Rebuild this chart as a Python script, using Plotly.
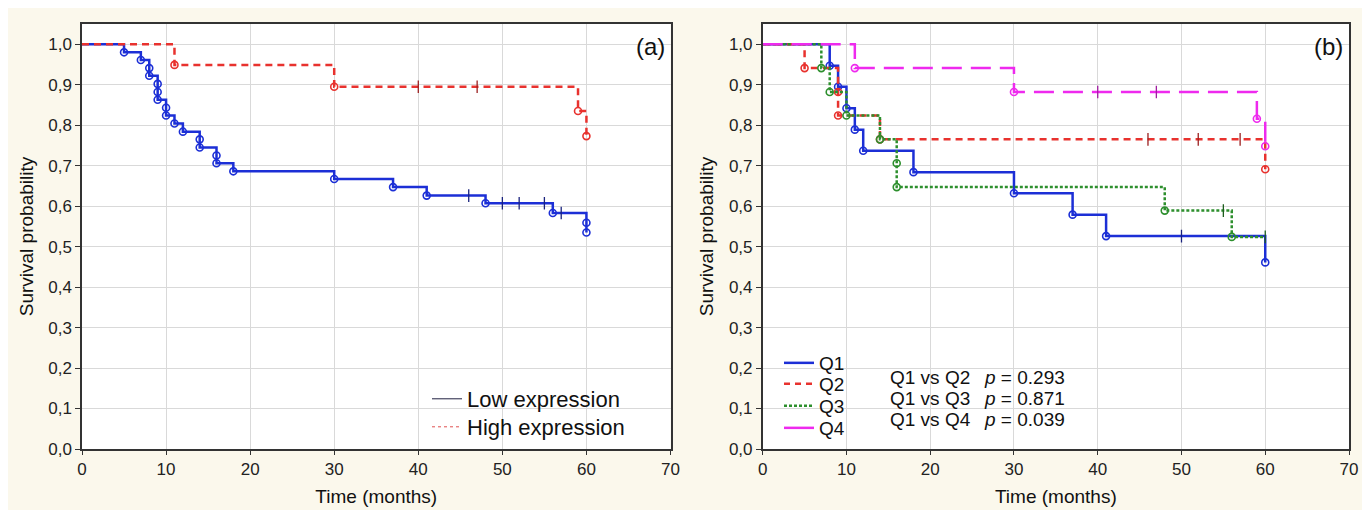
import plotly.graph_objects as go

# ---------------- data ----------------
# Panel (a)
low_event_t = [5, 7, 8, 8, 9, 9, 9, 10, 10, 11, 12, 14, 14, 16, 16, 18, 30, 37, 41, 48, 56, 60, 60]
low_event_s = [0.980, 0.961, 0.941, 0.922, 0.902, 0.882, 0.863, 0.843, 0.824, 0.804, 0.784,
               0.765, 0.745, 0.725, 0.706, 0.686, 0.667, 0.647, 0.626, 0.607, 0.583, 0.559, 0.535]
low_censor_t = [46, 50, 52, 55, 57]

high_event_t = [11, 30, 59, 60]
high_event_s = [0.949, 0.895, 0.835, 0.773]
high_censor_t = [40, 47]

# Panel (b)
q1_event_t = [8, 9, 10, 11, 12, 18, 30, 37, 41, 60]
q1_event_s = [0.947, 0.895, 0.842, 0.789, 0.737, 0.684, 0.632, 0.579, 0.526, 0.461]
q1_censor_t = [50]

q2_event_t = [5, 9, 9, 14, 60]
q2_event_s = [0.941, 0.882, 0.824, 0.765, 0.691]
q2_censor_t = [46, 52, 57]

q3_event_t = [7, 8, 10, 14, 16, 16, 48, 56]
q3_event_s = [0.941, 0.882, 0.824, 0.765, 0.706, 0.647, 0.589, 0.524]
q3_censor_t = [55, 60]

q4_event_t = [11, 30, 59, 60]
q4_event_s = [0.941, 0.882, 0.816, 0.748]
q4_censor_t = [40, 47]

comparisons = ["Q1 vs Q2", "Q1 vs Q3", "Q1 vs Q4"]
p_values = ["0.293", "0.871", "0.039"]

x_ticks = [0, 10, 20, 30, 40, 50, 60, 70]
y_ticks = [0.0, 0.1, 0.2, 0.3, 0.4, 0.5, 0.6, 0.7, 0.8, 0.9, 1.0]

# ---------------- helpers ----------------
def km_steps(event_t, event_s, censor_t):
    xs = [0] + list(event_t)
    ys = [1.0] + list(event_s)
    end = max(list(event_t) + list(censor_t))
    if end > xs[-1]:
        xs.append(end)
        ys.append(ys[-1])
    return xs, ys


def surv_at(t, event_t, event_s):
    s = 1.0
    for et, es in zip(event_t, event_s):
        if et <= t:
            s = es
    return s


FONT = "Liberation Sans, Arial, sans-serif"
BLUE = "#1c2fd6"
RED = "#e8322e"
GREEN = "#2d8f2d"
MAGENTA = "#ee2aee"

# page offset of the figure inside the browser window (body margin)
OFF = 8
W, H = 1355, 502
L, R, T, B = 74, 14, 16, 61
PW = W - L - R
PH = H - T - B


def px_x(p):
    """reference-image pixel x -> paper coordinate"""
    return (p - OFF - L) / PW


def px_y(p):
    """reference-image pixel y -> paper coordinate"""
    return (H - B - (p - OFF)) / PH


fig = go.Figure()


def add_group(event_t, event_s, censor_t, color, dash, width, xa, ya, censor_color):
    xs, ys = km_steps(event_t, event_s, censor_t)
    fig.add_trace(go.Scatter(x=xs, y=ys, mode="lines", line=dict(color=color, width=width, dash=dash, shape="hv"),
                             showlegend=False, xaxis=xa, yaxis=ya, hoverinfo="skip"))
    fig.add_trace(go.Scatter(x=event_t, y=event_s, mode="markers",
                             marker=dict(symbol="circle-open", size=7, color=color, line=dict(width=1.6, color=color)),
                             showlegend=False, xaxis=xa, yaxis=ya))
    cy = [surv_at(t, event_t, event_s) for t in censor_t]
    fig.add_trace(go.Scatter(x=censor_t, y=cy, mode="markers",
                             marker=dict(symbol="line-ns", size=9, line=dict(width=1.3, color=censor_color)),
                             showlegend=False, xaxis=xa, yaxis=ya))


# Panel (a)
add_group(low_event_t, low_event_s, low_censor_t, BLUE, "solid", 2.5, "x", "y", "#1a237e")
add_group(high_event_t, high_event_s, high_censor_t, RED, "7px,5px", 2.5, "x", "y", "#9b1f1f")

# Panel (b)
add_group(q1_event_t, q1_event_s, q1_censor_t, BLUE, "solid", 2.5, "x2", "y2", "#1a237e")
add_group(q2_event_t, q2_event_s, q2_censor_t, RED, "7px,5px", 2.5, "x2", "y2", "#9b1f1f")
add_group(q3_event_t, q3_event_s, q3_censor_t, GREEN, "3px,2px", 2.5, "x2", "y2", "#1d5e1d")
add_group(q4_event_t, q4_event_s, q4_censor_t, MAGENTA, "20px,9px", 2.5, "x2", "y2", "#a01da0")

# Legend entries: one small legend per entry so each row sits where it does in the original
legend_entries = [
    # name, color, width, dash, axes, legend id, left px, row-centre px, font size
    ("Low expression", "#202040", 1, "solid", ("x", "y"), "legend", 427, 399, 22),
    ("High expression", "#e05050", 1, "3px,3px", ("x", "y"), "legend2", 427, 427, 22),
    ("Q1", BLUE, 2.5, "solid", ("x2", "y2"), "legend3", 779, 363, 19),
    ("Q2", RED, 2.5, "6px,5px", ("x2", "y2"), "legend4", 779, 384, 19),
    ("Q3", GREEN, 2.5, "3px,2px", ("x2", "y2"), "legend5", 779, 406, 19),
    ("Q4", MAGENTA, 2.5, "solid", ("x2", "y2"), "legend6", 779, 428, 19),
]
legend_layout = {}
for nm, col, wd, dsh, (xa_id, ya_id), lg, lx, ly, fs in legend_entries:
    fig.add_trace(go.Scatter(x=[None], y=[None], mode="lines", name=nm,
                             line=dict(color=col, width=wd, dash=dsh), xaxis=xa_id, yaxis=ya_id, legend=lg))
    legend_layout[lg] = dict(x=px_x(lx), y=px_y(ly), xanchor="left", yanchor="middle",
                             bgcolor="rgba(0,0,0,0)", borderwidth=0,
                             font=dict(family=FONT, size=fs, color="#111111"))

axis_common = dict(showline=True, linecolor="#333333", linewidth=1.5, mirror=True,
                   showgrid=True, gridcolor="#d9d9d9", gridwidth=1, zeroline=False, automargin=False,
                   tickfont=dict(family=FONT, size=17, color="#222222"))

xa = dict(axis_common, range=[0, 70], tickvals=x_ticks, ticks="outside", ticklen=4, tickcolor="#333333",
          title=dict(text="Time (months)", font=dict(family=FONT, size=19, color="#111111"), standoff=12))
ya = dict(axis_common, range=[0, 1.05], tickvals=y_ticks, tickformat=".1f", ticks="outside", ticklen=5,
          tickcolor="#333333",
          title=dict(text="Survival probability", font=dict(family=FONT, size=19, color="#111111"), standoff=10))

fig.update_layout(
    width=W, height=H,
    margin=dict(l=L, r=R, t=T, b=B),
    paper_bgcolor="#fbf8ec",
    plot_bgcolor="white",
    separators=",.",
    font=dict(family=FONT, color="#111111"),
    xaxis=dict(xa, domain=[0, px_x(670.5)], anchor="y"),
    yaxis=dict(ya, domain=[0, 1], anchor="x"),
    xaxis2=dict(xa, domain=[px_x(762.7), 1], anchor="y2"),
    yaxis2=dict(ya, domain=[0, 1], anchor="x2"),
    showlegend=True,
    **legend_layout,
)

# panel labels
fig.add_annotation(text="(a)", xref="paper", yref="paper", x=px_x(650), y=px_y(47), showarrow=False,
                   font=dict(family=FONT, size=24, color="#111111"), xanchor="center", yanchor="middle")
fig.add_annotation(text="(b)", xref="paper", yref="paper", x=px_x(1328), y=px_y(47), showarrow=False,
                   font=dict(family=FONT, size=24, color="#111111"), xanchor="center", yanchor="middle")

# p-value text
row_y = [377, 398, 419]
for cmp, pv, ry in zip(comparisons, p_values, row_y):
    fig.add_annotation(text=cmp, xref="paper", yref="paper", x=px_x(888), y=px_y(ry), showarrow=False,
                       xanchor="left", yanchor="middle", font=dict(family=FONT, size=19, color="#111111"))
    fig.add_annotation(text="<i>p</i> = " + pv, xref="paper", yref="paper", x=px_x(982), y=px_y(ry),
                       showarrow=False, xanchor="left", yanchor="middle",
                       font=dict(family=FONT, size=19, color="#111111"))

fig.write_html("out.html")
